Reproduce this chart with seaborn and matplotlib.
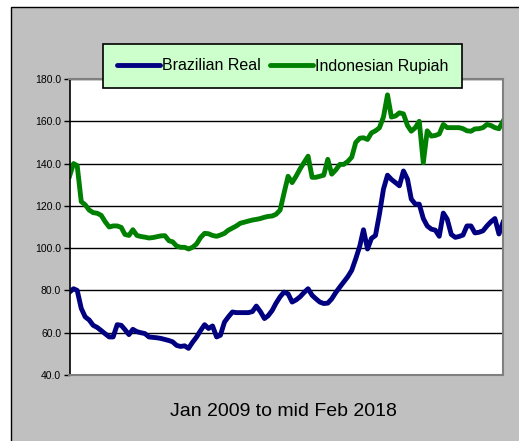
import pandas as pd
import seaborn as sns
import matplotlib.pyplot as plt
from matplotlib.lines import Line2D
from matplotlib.patches import Rectangle

plt.rcParams['font.family'] = ['Liberation Sans', 'DejaVu Sans']

# monthly index values, Jan 2009 .. Feb 2018
months = pd.date_range("2009-01-01", periods=110, freq="MS")

brazilian_real = [
    79.2, 80.8, 80.0, 71.5, 67.5, 66.0, 63.5, 62.5, 61.0, 59.5,
    58.0, 58.0, 63.8, 63.5, 61.5, 59.1, 61.6, 60.5, 60.0, 59.6,
    58.0, 57.8, 57.6, 57.3, 56.8, 56.3, 55.7, 54.0, 53.5, 53.8,
    52.6, 55.5, 58.0, 61.0, 63.8, 62.0, 63.2, 58.0, 58.8, 65.0,
    67.5, 69.8, 69.5, 69.5, 69.5, 69.5, 70.0, 72.6, 70.0, 66.7,
    68.0, 70.5, 74.0, 77.0, 79.2, 78.4, 74.5, 75.5, 77.0, 79.0,
    80.8, 77.7, 76.1, 74.5, 73.8, 74.0, 76.0, 79.0, 81.6, 84.0,
    86.5, 89.5, 95.0, 101.0, 108.7, 99.6, 104.6, 106.0, 116.0, 127.9,
    134.5, 132.5, 131.0, 129.5, 136.5, 132.6, 123.2, 120.8, 120.8, 114.0,
    110.5, 109.0, 108.5, 105.6, 116.6, 113.7, 106.5, 105.1, 105.5, 106.2,
    110.5, 110.5, 107.2, 107.5, 108.2, 110.5, 112.5, 114.0, 106.7, 112.2,
]

indonesian_rupiah = [
    134.0, 140.0, 139.0, 122.0, 120.5, 118.0, 116.8, 116.5, 115.5, 112.5,
    110.0, 110.5, 110.5, 109.8, 106.5, 106.0, 108.7, 106.0, 105.5, 105.2,
    104.8, 105.0, 105.4, 105.8, 105.9, 103.5, 103.0, 101.0, 100.4, 100.4,
    99.6, 100.4, 102.0, 105.0, 107.0, 106.8, 106.0, 105.6, 106.2, 107.0,
    108.5, 109.5, 110.5, 111.8, 112.3, 112.8, 113.3, 113.6, 114.0, 114.6,
    115.0, 115.2, 116.0, 118.0, 126.0, 134.0, 131.0, 134.0, 137.5, 140.5,
    143.5, 133.5, 133.5, 134.0, 134.5, 142.0, 135.0, 137.0, 139.6, 139.6,
    141.0, 143.0, 150.0, 152.0, 152.2, 151.4, 154.5, 155.5, 156.9, 162.0,
    172.5, 162.0, 162.5, 164.0, 163.5, 158.0, 155.3, 157.0, 160.0, 140.4,
    155.5, 153.0, 153.3, 154.0, 158.5, 157.0, 157.0, 157.0, 157.0, 156.5,
    155.5, 155.3, 156.4, 156.5, 157.0, 158.5, 158.0, 157.0, 156.5, 160.0,
]

series_names = ["Brazilian Real", "Indonesian Rupiah"]
series_colors = ["#000080", "#008000"]
y_ticks = [40, 60, 80, 100, 120, 140, 160, 180]
x_label = "Jan 2009 to mid Feb 2018"

df = pd.DataFrame({
    "month": months,
    series_names[0]: brazilian_real,
    series_names[1]: indonesian_rupiah,
}).melt(id_vars="month", var_name="series", value_name="value")

W, H = 519, 441
fig = plt.figure(figsize=(W / 100, H / 100), dpi=100)
fig.patch.set_facecolor("white")

# grey chart area with black border (runs off the right/bottom edge)
bg = Rectangle((10.5 / W, -0.05), 1.1, 434.5 / H + 0.05, transform=fig.transFigure,
               facecolor="#c0c0c0", edgecolor="black", lw=1, zorder=-10)
fig.patches.append(bg)

ax = fig.add_axes([69.5 / W, 66 / H, 433.5 / W, 296 / H])
ax.set_facecolor("white")
sns.lineplot(data=df, x="month", y="value", hue="series", hue_order=series_names,
             palette=series_colors, lw=3.5, ax=ax, legend=False)

ax.set_xlim(months[0], months[-1])
ax.set_ylim(40, 180)
ax.set_yticks(y_ticks)
ax.set_yticklabels([f"{v:.1f}" for v in y_ticks])
ax.set_xticks([])
ax.set_xlabel("")
ax.set_ylabel("")
ax.grid(axis="y", color="black", lw=1)
ax.set_axisbelow(True)
for side in ["top", "right", "bottom"]:
    ax.spines[side].set_color("#808080")
    ax.spines[side].set_linewidth(1.5)
ax.spines["left"].set_color("black")
ax.spines["left"].set_linewidth(1.2)
ax.tick_params(axis="y", length=4, width=1, direction="out", labelsize=7.5, pad=2)

handles = [Line2D([], [], color=c, lw=3.5, solid_capstyle="round") for c in series_colors]
leg = fig.legend(handles, series_names, loc="center", bbox_to_anchor=(282.5 / W, 375 / H),
                 ncol=2, frameon=True, fancybox=False, facecolor="#ccffcc",
                 edgecolor="black", framealpha=1, prop={"size": 11.5},
                 handlelength=2.7, handletextpad=0.1, columnspacing=0.6, borderpad=0.9)
leg.get_frame().set_linewidth(1.2)

fig.text(283 / W, 1 - 411 / H, x_label, ha="center", va="center", fontsize=14)

fig.savefig("out.png", dpi=100)
